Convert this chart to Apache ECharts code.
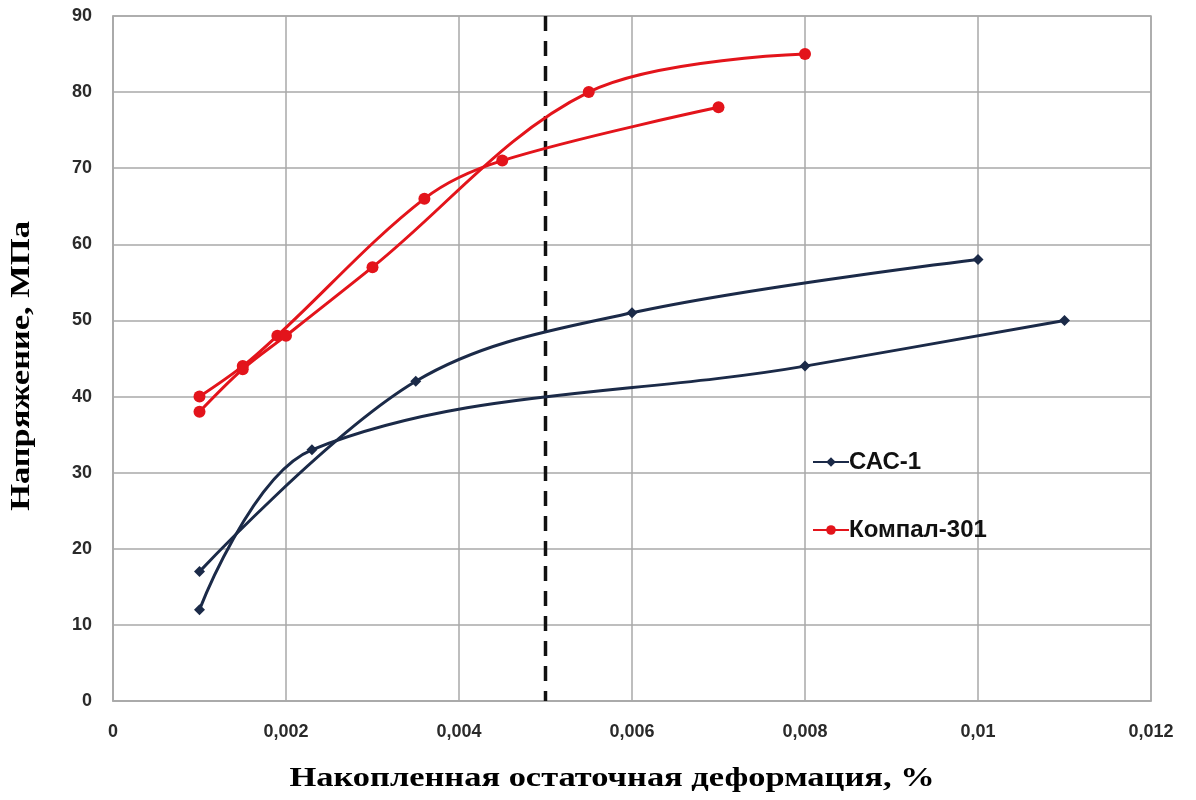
<!DOCTYPE html>
<html>
<head>
<meta charset="utf-8">
<script src="https://cdn.jsdelivr.net/npm/echarts@6/dist/echarts.min.js"></script>
<style>
  html, body { margin: 0; padding: 0; background: #fff; }
  #chart { width: 1196px; height: 800px; }
</style>
</head>
<body>
<div id="chart"></div>
<script>
// Accumulated residual strain (%) vs stress (MPa)
const sac1A = [[0.001, 12], [0.0023, 33], [0.008, 44], [0.011, 50]];
const sac1B = [[0.001, 17], [0.0035, 42], [0.006, 51], [0.01, 58]];
const kompalA = [[0.001, 40], [0.0015, 44], [0.0019, 48], [0.0036, 66], [0.0045, 71], [0.007, 78]];
const kompalB = [[0.001, 38], [0.0015, 43.6], [0.002, 48], [0.003, 57], [0.0055, 80], [0.008, 85]];
const refStrain = 0.005;          // vertical dashed reference line
const stressRange = [0, 90];
const strainRange = [0, 0.012];

const xTitle = 'Накопленная остаточная деформация, %';
const yTitle = 'Напряжение, МПа';

const NAVY = '#1b2a48';
const RED = '#e3141b';
const GRID = '#a9a9a9';

const chart = echarts.init(document.getElementById('chart'));

function navySeries(data) {
  return {
    name: 'САС-1', type: 'line', data: data, smooth: 0.35,
    symbol: 'diamond', symbolSize: 11,
    lineStyle: { color: NAVY, width: 3 },
    itemStyle: { color: NAVY },
    z: 3
  };
}
function redSeries(data) {
  return {
    name: 'Компал-301', type: 'line', data: data, smooth: 0.35,
    symbol: 'circle', symbolSize: 12,
    lineStyle: { color: RED, width: 3 },
    itemStyle: { color: RED },
    z: 4
  };
}

const titleFont = { fontFamily: 'Liberation Serif, Times New Roman', fontWeight: 'bold', fontSize: 28, fill: '#000' };

chart.setOption({
  animation: false,
  backgroundColor: '#fff',
  grid: { left: 113, right: 45, top: 16, bottom: 99, show: true, borderColor: GRID, borderWidth: 1.5 },
  xAxis: {
    type: 'value', min: strainRange[0], max: strainRange[1], interval: 0.002,
    axisLine: { show: true, lineStyle: { color: GRID, width: 1.5 } },
    axisTick: { show: false },
    splitLine: { show: true, lineStyle: { color: GRID, width: 1.5 } },
    axisLabel: {
      margin: 22, color: '#2a2a2a', fontFamily: 'Liberation Sans, Arial', fontWeight: 'bold', fontSize: 18,
      formatter: v => String(+v.toFixed(3)).replace('.', ',')
    }
  },
  yAxis: {
    type: 'value', min: stressRange[0], max: stressRange[1], interval: 10,
    axisLine: { show: true, lineStyle: { color: GRID, width: 1.5 } },
    axisTick: { show: false },
    splitLine: { show: true, lineStyle: { color: GRID, width: 1.5 } },
    axisLabel: { margin: 21, color: '#2a2a2a', fontFamily: 'Liberation Sans, Arial', fontWeight: 'bold', fontSize: 18 }
  },
  graphic: [
    {
      type: 'text', x: 612, y: 779, scaleX: 1.23,
      style: Object.assign({ text: xTitle, align: 'center', verticalAlign: 'middle' }, titleFont)
    },
    {
      type: 'text', x: 22, y: 366, rotation: Math.PI / 2, scaleX: 1.23,
      style: Object.assign({ text: yTitle, align: 'center', verticalAlign: 'middle' }, titleFont)
    }
  ],
  legend: {
    data: ['САС-1', 'Компал-301'],
    orient: 'vertical', left: 807, top: 445, itemGap: 44,
    itemWidth: 36, itemHeight: 12,
    textStyle: { fontFamily: 'Liberation Sans, Arial', fontWeight: 'bold', fontSize: 24, color: '#111', padding: [0, 0, 0, -5] }
  },
  series: [
    navySeries(sac1A),
    navySeries(sac1B),
    redSeries(kompalA),
    redSeries(kompalB),
    {
      name: 'ref', type: 'line', silent: true, symbol: 'none',
      data: [[refStrain, stressRange[1]], [refStrain, stressRange[0]]],
      lineStyle: { color: '#111', width: 3.5, type: [15, 10] },
      z: 2
    }
  ]
});
</script>
</body>
</html>
